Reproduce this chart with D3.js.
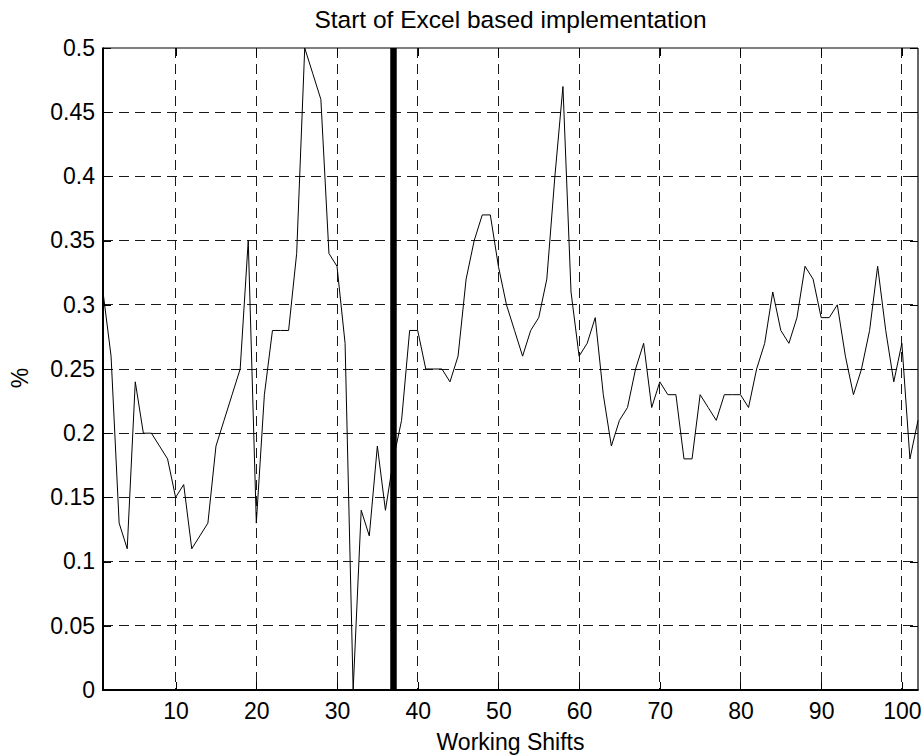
<!DOCTYPE html>
<html>
<head>
<meta charset="utf-8">
<script src="https://cdn.jsdelivr.net/npm/d3@7"></script>
<style>
  html, body { margin: 0; padding: 0; background: #fff; }
  svg text { font-family: 'Liberation Sans', Arial, Helvetica, sans-serif; fill: #000; }
</style>
</head>
<body>
<svg id="chart" width="923" height="755"></svg>
<script>
const WIDTH = 923
const HEIGHT = 755
const MARGIN = { top: 48, right: 5, bottom: 65, left: 103 }
const FONT_SIZE = 23
const TITLE_SIZE = 24.5
const TICK_LEN = 8

// share per working shift (shift number = position + 1)
const values = [
  0.31, 0.26, 0.13, 0.11, 0.24, 0.20, 0.20, 0.19, 0.18, 0.15,
  0.16, 0.11, 0.12, 0.13, 0.19, 0.21, 0.23, 0.25, 0.35, 0.13,
  0.23, 0.28, 0.28, 0.28, 0.34, 0.50, 0.48, 0.46, 0.34, 0.33,
  0.27, 0.00, 0.14, 0.12, 0.19, 0.14, 0.18, 0.21, 0.28, 0.28,
  0.25, 0.25, 0.25, 0.24, 0.26, 0.32, 0.35, 0.37, 0.37, 0.33,
  0.30, 0.28, 0.26, 0.28, 0.29, 0.32, 0.40, 0.47, 0.31, 0.26,
  0.27, 0.29, 0.23, 0.19, 0.21, 0.22, 0.25, 0.27, 0.22, 0.24,
  0.23, 0.23, 0.18, 0.18, 0.23, 0.22, 0.21, 0.23, 0.23, 0.23,
  0.22, 0.25, 0.27, 0.31, 0.28, 0.27, 0.29, 0.33, 0.32, 0.29,
  0.29, 0.30, 0.26, 0.23, 0.25, 0.28, 0.33, 0.28, 0.24, 0.27,
  0.18, 0.21
]
// shift where the Excel based implementation starts
const markers = [37]
const xDomain = [1, 102]
const yDomain = [0, 0.5]
const xTicks = [10, 20, 30, 40, 50, 60, 70, 80, 90, 100]
const yTicks = [0, 0.05, 0.1, 0.15, 0.2, 0.25, 0.3, 0.35, 0.4, 0.45, 0.5]
const yTickLabels = ['0', '0.05', '0.1', '0.15', '0.2', '0.25', '0.3', '0.35', '0.4', '0.45', '0.5']

const points = values.map((v, i) => ({ shift: i + 1, value: v }))

const innerW = WIDTH - MARGIN.left - MARGIN.right
const innerH = HEIGHT - MARGIN.top - MARGIN.bottom

const x = d3.scaleLinear().domain(xDomain).range([0, innerW])
const y = d3.scaleLinear().domain(yDomain).range([innerH, 0])

const svg = d3.select('#chart')
const g = svg.append('g')
  .attr('transform', `translate(${MARGIN.left},${MARGIN.top})`)

// grid
g.append('g')
  .selectAll('line')
  .data(xTicks)
  .join('line')
  .attr('x1', d => x(d))
  .attr('x2', d => x(d))
  .attr('y1', 0)
  .attr('y2', innerH)
  .attr('stroke', '#1a1a1a')
  .attr('stroke-width', 1)
  .attr('stroke-dasharray', '10,6')
  .attr('shape-rendering', 'crispEdges')

g.append('g')
  .selectAll('line')
  .data(yTicks.slice(1, -1))
  .join('line')
  .attr('x1', 0)
  .attr('x2', innerW)
  .attr('y1', d => y(d))
  .attr('y2', d => y(d))
  .attr('stroke', '#1a1a1a')
  .attr('stroke-width', 1)
  .attr('stroke-dasharray', '10,6')
  .attr('shape-rendering', 'crispEdges')

// axes, ticks pointing inward like matlab
const fmtY = d => yTickLabels[yTicks.indexOf(d)]

const axes = [
  { ax: d3.axisBottom(x).tickValues(xTicks).tickPadding(13), t: `translate(0,${innerH})` },
  { ax: d3.axisTop(x).tickValues(xTicks).tickFormat(''), t: 'translate(0,0)' },
  { ax: d3.axisLeft(y).tickValues(yTicks).tickFormat(fmtY).tickPadding(8), t: 'translate(0,0)' },
  { ax: d3.axisRight(y).tickValues(yTicks).tickFormat(''), t: `translate(${innerW},0)` }
]
axes.forEach(a => {
  const sel = g.append('g')
    .attr('transform', a.t)
    .call(a.ax.tickSizeInner(-TICK_LEN).tickSizeOuter(0))
  sel.select('.domain').remove()
  sel.selectAll('line').attr('stroke', '#000').attr('shape-rendering', 'crispEdges')
  sel.selectAll('text')
    .attr('font-size', FONT_SIZE)
    .attr('font-family', null)
})

// data line
const line = d3.line()
  .x(d => x(d.shift))
  .y(d => y(d.value))

g.append('path')
  .datum(points)
  .attr('fill', 'none')
  .attr('stroke', '#000')
  .attr('stroke-width', 1)
  .attr('stroke-linejoin', 'miter')
  .attr('d', line)

// start marker
g.append('g')
  .selectAll('line')
  .data(markers)
  .join('line')
  .attr('x1', d => x(d))
  .attr('x2', d => x(d))
  .attr('y1', y(yDomain[0]))
  .attr('y2', y(yDomain[1]))
  .attr('stroke', '#000')
  .attr('stroke-width', 6.5)

// box
g.append('line')
  .attr('x1', 0).attr('x2', innerW)
  .attr('y1', 0).attr('y2', 0)
  .attr('stroke', '#000').attr('stroke-width', 1.2)
g.append('line')
  .attr('x1', innerW).attr('x2', innerW)
  .attr('y1', 0).attr('y2', innerH)
  .attr('stroke', '#000').attr('stroke-width', 1.2)
g.append('line')
  .attr('x1', 0).attr('x2', 0)
  .attr('y1', -0.6).attr('y2', innerH + 1)
  .attr('stroke', '#000').attr('stroke-width', 2)
g.append('line')
  .attr('x1', -1).attr('x2', innerW + 0.6)
  .attr('y1', innerH).attr('y2', innerH)
  .attr('stroke', '#000').attr('stroke-width', 2)

// labels
svg.append('text')
  .attr('x', MARGIN.left + innerW / 2)
  .attr('y', 28)
  .attr('text-anchor', 'middle')
  .attr('font-size', TITLE_SIZE)
  .text('Start of Excel based implementation')

svg.append('text')
  .attr('x', MARGIN.left + innerW / 2)
  .attr('y', 750)
  .attr('text-anchor', 'middle')
  .attr('font-size', FONT_SIZE)
  .text('Working Shifts')

svg.append('text')
  .attr('transform', `translate(28,378) rotate(-90)`)
  .attr('text-anchor', 'middle')
  .attr('font-size', FONT_SIZE)
  .text('%')
</script>
</body>
</html>
